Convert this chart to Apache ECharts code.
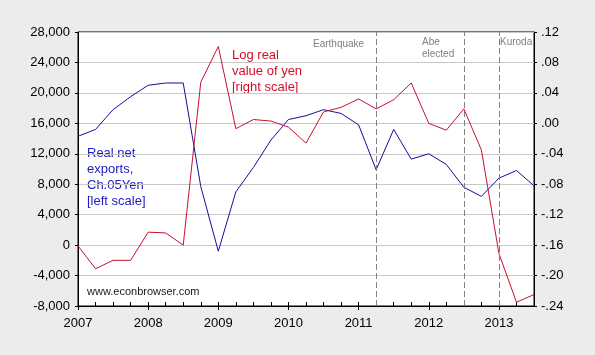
<!DOCTYPE html>
<html>
<head>
<meta charset="utf-8">
<script src="https://cdn.jsdelivr.net/npm/echarts@6/dist/echarts.min.js"></script>
<style>
html,body{margin:0;padding:0;background:#ececec;}
#c{width:595px;height:355px;}
</style>
</head>
<body>
<div id="c"></div>
<script>
var quarters = ["2007Q1","2007Q2","2007Q3","2007Q4","2008Q1","2008Q2","2008Q3","2008Q4",
  "2009Q1","2009Q2","2009Q3","2009Q4","2010Q1","2010Q2","2010Q3","2010Q4",
  "2011Q1","2011Q2","2011Q3","2011Q4","2012Q1","2012Q2","2012Q3","2012Q4",
  "2013Q1","2013Q2","2013Q3"];
var netExports = [14300,15200,17800,19500,21000,21300,21300,7700,-800,7000,10200,13800,
  16500,17000,17800,17300,15800,9900,15200,11300,12000,10600,7600,6400,8800,9800,7800];
var logYen = [-0.161,-0.191,-0.180,-0.180,-0.143,-0.144,-0.160,0.054,0.101,-0.007,0.005,0.003,
  -0.005,-0.026,0.015,0.021,0.032,0.019,0.031,0.053,0.000,-0.009,0.019,-0.035,-0.171,-0.235,-0.225];
var events = [["2011Q2","Earthquake"],["2012Q3","Abe\nelected"],["2013Q1","Kuroda"]];
var leftTicks = {min:-8000,max:28000,interval:4000};
var rightTicks = {min:-0.24,max:0.12,interval:0.04};

var chart = echarts.init(document.getElementById('c'));
var FONT = 'Liberation Sans, Arial, sans-serif';
function commas(v){ var s=Math.abs(Math.round(v)).toString().replace(/\B(?=(\d{3})+(?!\d))/g, ','); return (v<0?'-':'')+s; }
function dec(v){ if(Math.abs(v)<1e-9) return '.00'; var s=v.toFixed(2); return s.replace('0.', '.'); }

chart.setOption({
  backgroundColor:'#ececec',
  animation:false,
  grid:{left:78,right:61,top:32,bottom:49,show:true,backgroundColor:'#ffffff',borderColor:'#000',borderWidth:1},
  xAxis:[{
    type:'category', data:quarters, boundaryGap:false, position:'bottom',
    axisLine:{onZero:false,lineStyle:{color:'#000',width:1}},
    axisTick:{show:true,inside:true,interval:0,length:4,lineStyle:{color:'#000'}},
    axisLabel:{interval:3,margin:11,color:'#000',fontFamily:FONT,fontSize:13,
      formatter:function(v){return v.slice(0,4);}},
    splitLine:{show:false}
  },{
    type:'category', data:quarters, boundaryGap:false, position:'bottom',
    axisLine:{show:false,onZero:false},
    axisTick:{show:true,inside:false,interval:3,length:4,lineStyle:{color:'#000'}},
    axisLabel:{show:false},
    splitLine:{show:false}
  }],
  yAxis:[{
    type:'value', min:leftTicks.min, max:leftTicks.max, interval:leftTicks.interval, position:'left',
    axisLine:{show:true,onZero:false,lineStyle:{color:'#000'}},
    axisTick:{show:true,length:3,lineStyle:{color:'#000'}},
    axisLabel:{margin:8,color:'#000',fontFamily:FONT,fontSize:13,formatter:commas},
    splitLine:{show:true,lineStyle:{color:'#c8c8c8',width:1}}
  },{
    type:'value', min:rightTicks.min, max:rightTicks.max, interval:rightTicks.interval, position:'right',
    axisLine:{show:true,onZero:false,lineStyle:{color:'#000'}},
    axisTick:{show:true,length:3,lineStyle:{color:'#000'}},
    axisLabel:{margin:7,color:'#000',fontFamily:FONT,fontSize:13,formatter:dec},
    splitLine:{show:false}
  }],
  series:[{
    name:'Real net exports', type:'line', yAxisIndex:0, data:netExports, symbol:'none',
    lineStyle:{color:'#10109a',width:1}, z:3,
    markLine:{silent:true,symbol:'none',label:{show:false},
      lineStyle:{color:'#808080',type:[6,3],width:1},
      data:events.map(function(e){return {xAxis:e[0]};})}
  },{
    name:'Log real value of yen', type:'line', yAxisIndex:1, data:logYen, symbol:'none',
    lineStyle:{color:'#c8102e',width:1}, z:4
  }],
  graphic:[
    {type:'text',left:232,top:47,style:{text:'Log real\nvalue of yen\n[right scale]',fill:'#d0102a',font:'13px '+FONT,lineHeight:16}},
    {type:'text',left:87,top:145,style:{text:'Real net\nexports,\nCh.05Yen\n[left scale]',fill:'#1a1ac8',font:'13px '+FONT,lineHeight:16}},
    {type:'text',left:87,top:286,style:{text:'www.econbrowser.com',fill:'#202020',font:'11px '+FONT}},
    {type:'text',left:313,top:39,style:{text:events[0][1],fill:'#808080',font:'10px '+FONT}},
    {type:'text',left:422,top:36,style:{text:events[1][1],fill:'#808080',font:'10px '+FONT,lineHeight:12}},
    {type:'text',left:500,top:37,style:{text:events[2][1],fill:'#808080',font:'10px '+FONT}}
  ]
});
</script>
</body>
</html>
